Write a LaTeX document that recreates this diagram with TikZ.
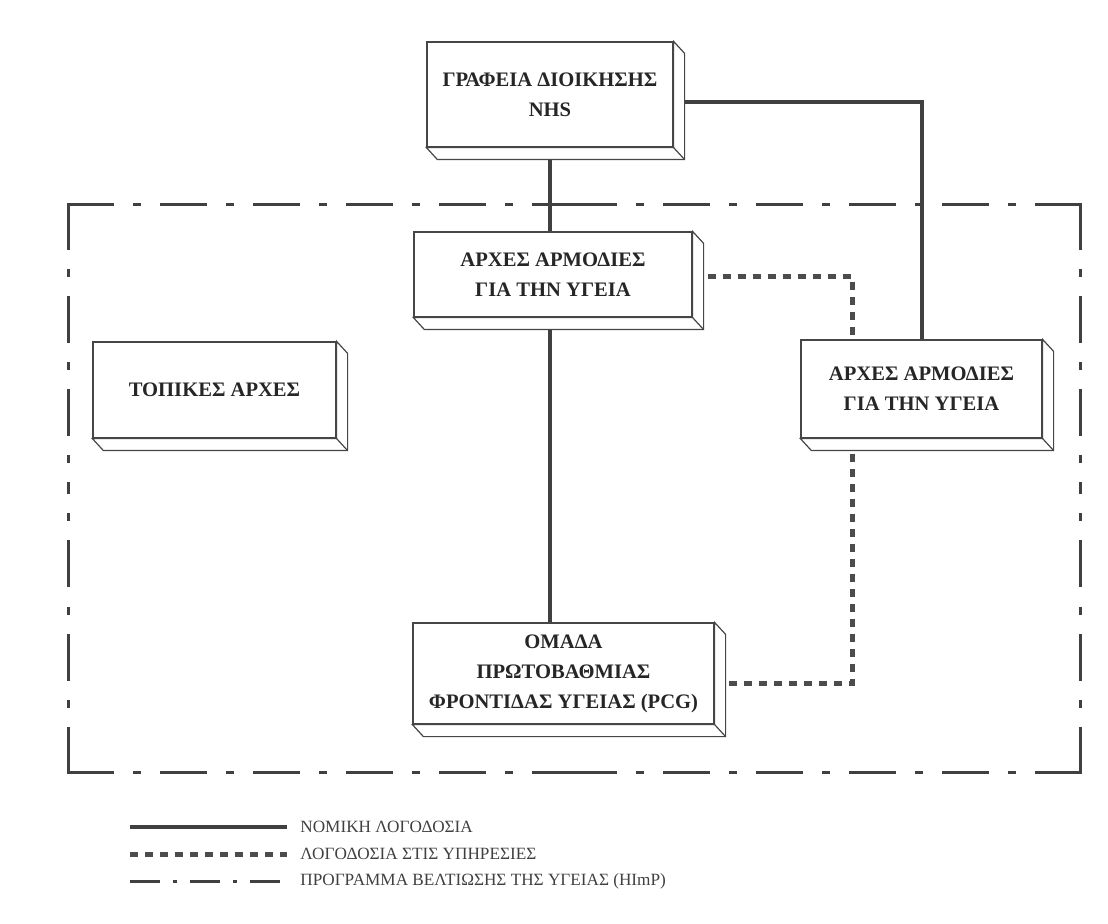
\documentclass[tikz,border=0pt]{standalone}
\usepackage{fontspec}
\setmainfont{Liberation Serif}
\usetikzlibrary{positioning,backgrounds,calc}
\tikzset{
  unitbox/.style={draw=gray!55!black, line width=0.6pt, fill=white, align=center, inner sep=2pt,
    font=\bfseries\fontsize{10.3}{15}\selectfont, text=black!85},
  legal/.style={draw=black!75, line width=2pt},
  service/.style={draw=black!70, line width=2.5pt, dash pattern=on 4pt off 3.5pt},
  himp/.style={draw=black!75, line width=1.5pt, dash pattern=on 22pt off 11pt on 2.5pt off 11pt},
  himpkey/.style={himp, dash pattern=on 15pt off 6.5pt on 2pt off 6.5pt},
  legtext/.style={inner sep=0pt, anchor=west, font=\fontsize{8.6}{10}\selectfont, text=black!75}
}
% depth of a box: right side and bottom strip
\newcommand{\boxdepth}[1]{%
  \draw[draw=gray!55!black, line width=0.6pt, fill=white] (#1.north east) -- ++(5.5pt,-6pt)
    -- ([shift={(5.5pt,-6pt)}]#1.south east) -- ([shift={(5.5pt,-6pt)}]#1.south west)
    -- (#1.south west) -- (#1.south east) -- cycle;
  \draw[draw=gray!55!black, line width=0.6pt] (#1.south east) -- ++(5.5pt,-6pt);
}
\begin{document}
\begin{tikzpicture}[x=0.5pt, y=-0.5pt]
\useasboundingbox (0,0) rectangle (1108,924);
% boxes
\node[unitbox, minimum width=123pt, minimum height=52.5pt] (nhs) at (550,94.5) {ΓΡΑΦΕΙΑ ΔΙΟΙΚΗΣΗΣ\\NHS};
\node[unitbox, minimum width=139pt, minimum height=42.5pt] (hlthc) at (553,274.5) {ΑΡΧΕΣ ΑΡΜΟΔΙΕΣ\\ΓΙΑ ΤΗΝ ΥΓΕΙΑ};
\node[unitbox, minimum width=121.5pt, minimum height=48pt] (local) at (214.5,390) {ΤΟΠΙΚΕΣ ΑΡΧΕΣ};
\node[unitbox, minimum width=120.5pt, minimum height=49pt] (hlthr) at (921.5,389) {ΑΡΧΕΣ ΑΡΜΟΔΙΕΣ\\ΓΙΑ ΤΗΝ ΥΓΕΙΑ};
\node[unitbox, minimum width=150.5pt, minimum height=50.5pt] (pcg) at (563.5,673.5) {ΟΜΑΔΑ\\ΠΡΩΤΟΒΑΘΜΙΑΣ\\ΦΡΟΝΤΙΔΑΣ ΥΓΕΙΑΣ (PCG)};
\foreach \b in {nhs,hlthc,local,hlthr,pcg} {\boxdepth{\b}}
% connectors
\begin{scope}[on background layer]
  \draw[legal] (nhs.south) -- (nhs.south |- hlthc.north);
  \draw[legal] (hlthc.south -| nhs.south) -- (nhs.south |- pcg.north);
  \draw[legal] ([yshift=-3.75pt]nhs.east) -| (hlthr.north);
  \draw[service] ([yshift=-1pt]hlthc.east) -| ([xshift=26pt]hlthr.north west);
  \draw[service] ([xshift=26pt]hlthr.south west) |- ([yshift=-4.75pt]pcg.east);
\end{scope}
% HImP frame
\coordinate (fr-nw) at (68,205);
\coordinate (fr-ne) at (1080,205);
\coordinate (fr-se) at (1080,772);
\coordinate (fr-sw) at (68,772);
\foreach \c/\h/\v in {nw/ne/sw, ne/nw/se, se/sw/ne, sw/se/nw} {
  \draw[himp, line cap=rect] (fr-\c) -- ($(fr-\c)!0.5!(fr-\h)$);
  \draw[himp, line cap=rect] (fr-\c) -- ($(fr-\c)!0.5!(fr-\v)$);
}
% legend
\foreach \sty/\txt [count=\i] in {legal/ΝΟΜΙΚΗ ΛΟΓΟΔΟΣΙΑ, service/ΛΟΓΟΔΟΣΙΑ ΣΤΙΣ ΥΠΗΡΕΣΙΕΣ,
    himpkey/{ΠΡΟΓΡΑΜΜΑ ΒΕΛΤΙΩΣΗΣ ΤΗΣ ΥΓΕΙΑΣ (HImP)}} {
  \coordinate (leg-\i-l) at (130,800+27*\i);
  \coordinate (leg-\i-r) at (287,800+27*\i);
  \draw[\sty] (leg-\i-l) -- (leg-\i-r);
  \node[legtext, right=6.5pt of leg-\i-r] (legtxt-\i) {\txt};
}
\end{tikzpicture}
\end{document}
